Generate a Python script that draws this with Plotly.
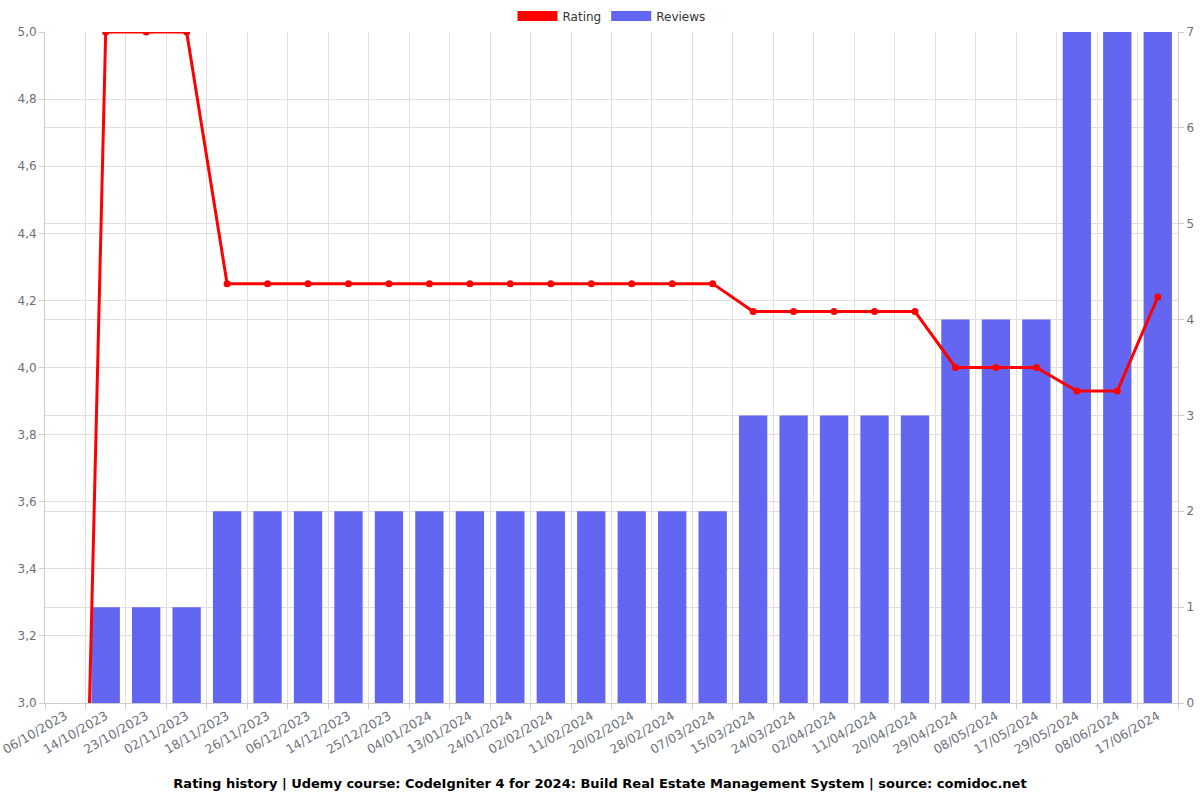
import plotly.graph_objects as go

dates = ["06/10/2023", "14/10/2023", "23/10/2023", "02/11/2023", "18/11/2023", "26/11/2023",
         "06/12/2023", "14/12/2023", "25/12/2023", "04/01/2024", "13/01/2024", "24/01/2024",
         "02/02/2024", "11/02/2024", "20/02/2024", "28/02/2024", "07/03/2024", "15/03/2024",
         "24/03/2024", "02/04/2024", "11/04/2024", "20/04/2024", "29/04/2024", "08/05/2024",
         "17/05/2024", "29/05/2024", "08/06/2024", "17/06/2024"]
rating = [0, 5, 5, 5, 4.25, 4.25, 4.25, 4.25, 4.25, 4.25, 4.25, 4.25, 4.25, 4.25, 4.25, 4.25,
          4.25, 4.1667, 4.1667, 4.1667, 4.1667, 4.1667, 4.0, 4.0, 4.0, 3.93, 3.93, 4.21]
reviews = [0, 1, 1, 1, 2, 2, 2, 2, 2, 2, 2, 2, 2, 2, 2, 2, 2, 3, 3, 3, 3, 3, 4, 4, 4, 7, 7, 7]

title_text = "Rating history | Udemy course: CodeIgniter 4 for 2024: Build Real Estate Management System | source: comidoc.net"

RED = "#ff0000"
BLUE = "#6366f1"
GRID = "#e0e0e0"
AXIS = "#cccccc"
TXT = "#6e7079"

fig = go.Figure()
# legend entries (wide rectangle symbols)
fig.add_trace(go.Scatter(x=[dates[0]], y=[None], mode="lines", name="Rating",
                         line=dict(color=RED, width=14), yaxis="y2"))
fig.add_trace(go.Scatter(x=[dates[0]], y=[None], mode="lines", name="Reviews",
                         line=dict(color=BLUE, width=14)))
# reviews bars on primary (right side) axis
fig.add_trace(go.Bar(x=dates, y=reviews, name="Reviews",
                     marker=dict(color=BLUE, line=dict(width=0)),
                     showlegend=False))
# rating line on overlaying left axis (drawn on top)
fig.add_trace(go.Scatter(x=dates, y=rating, mode="lines+markers", name="Rating", yaxis="y2",
                         line=dict(color=RED, width=3), marker=dict(color=RED, size=7),
                         showlegend=False))

fig.update_layout(
    width=1200, height=800,
    margin=dict(l=45, r=22, t=32, b=97, autoexpand=False),
    plot_bgcolor="white", paper_bgcolor="white",
    font=dict(family="DejaVu Sans", size=12, color=TXT),
    separators=", ",
    bargap=0.3,
    legend=dict(orientation="h", x=0.5, xanchor="center", y=0.98, yref="container",
                yanchor="middle", font=dict(color="#333333", size=12), traceorder="normal",
                itemwidth=40),
    title=dict(text="<b>" + title_text + "</b>", x=0.5, xanchor="center", y=0.021,
               yanchor="middle", yref="container", font=dict(size=13, color="#000000")),
    xaxis=dict(type="category", categoryorder="array", categoryarray=dates,
               range=[-0.5, len(dates) - 0.5], tickson="boundaries", tickangle=-30,
               showgrid=True, gridcolor=GRID, showline=True, linecolor=AXIS, ticks="outside",
               ticklen=5, tickcolor=AXIS, tickfont=dict(size=12.5, color=TXT)),
    yaxis=dict(range=[0, 7], dtick=1, side="right", showgrid=True,
               gridcolor=GRID, showline=True, linecolor=AXIS, ticks="outside", ticklen=5,
               tickcolor=AXIS, zeroline=False, tickfont=dict(size=12, color=TXT)),
    yaxis2=dict(range=[3, 5], dtick=0.2, tickformat=".1f", overlaying="y", side="left",
                showgrid=True, gridcolor=GRID, showline=True, linecolor=AXIS, ticks="outside",
                ticklen=5, tickcolor=AXIS, zeroline=False, tickfont=dict(size=12, color=TXT)),
)

fig.write_html("out.html")
